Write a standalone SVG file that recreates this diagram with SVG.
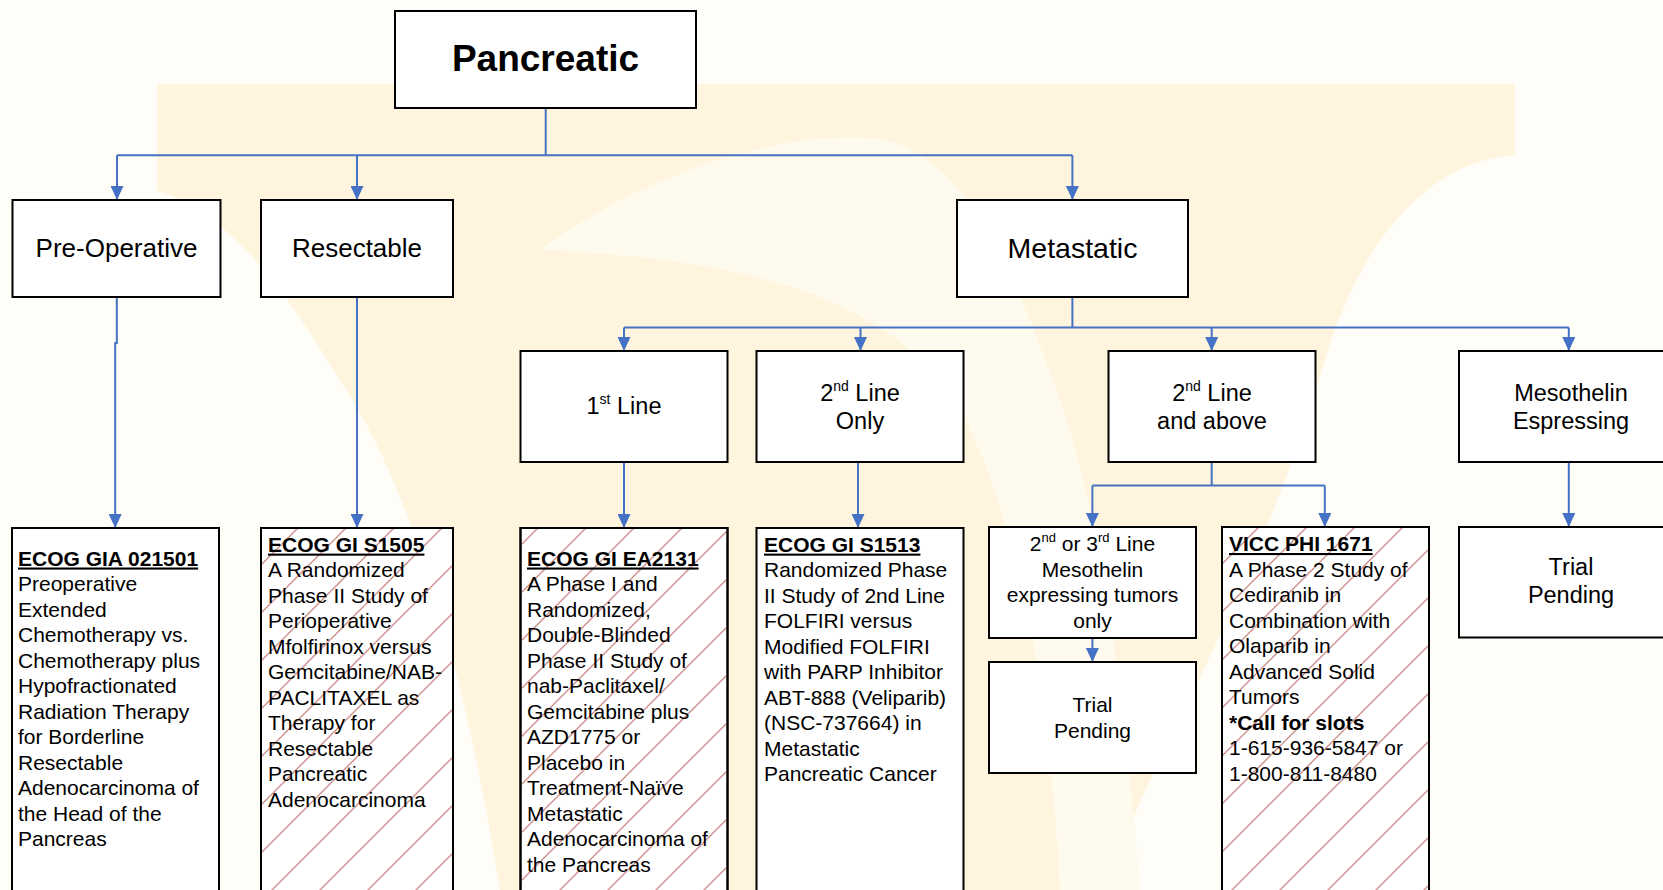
<svg xmlns="http://www.w3.org/2000/svg" width="1663" height="890" viewBox="0 0 1663 890">
<style>
text{font-family:"Liberation Sans",Arial,sans-serif;fill:#000}
.box{fill:#fff;stroke:#000;stroke-width:2}
.hatch{fill:url(#hatch);stroke:none}
.c{text-anchor:middle}
.t21{font-size:21px}
.t235{font-size:23.5px}
.t26{font-size:26px}
.hd{font-weight:bold;text-decoration:underline}
.b{font-weight:bold}
.conn{fill:none;stroke:#4472C4;stroke-width:2}
</style>
<defs>
<pattern id="hatch" patternUnits="userSpaceOnUse" width="48" height="48" x="0" y="10">
<path d="M-4,4 L4,-4 M0,48 L48,0 M44,52 L52,44" stroke="#CC8F8A" stroke-width="1.4"/>
</pattern>
<marker id="arr" viewBox="0 0 14 13" refX="14" refY="6.5" markerWidth="14" markerHeight="13" markerUnits="userSpaceOnUse" orient="auto">
<path d="M0,0 L14,6.5 L0,13 Z" fill="#4472C4"/>
</marker>
</defs>
<g id="background">
<rect x="0" y="0" width="1663" height="890" fill="#FFFDF7"/>
<path d="M157,84 H1515 V155 C1430,160 1360,240 1325,360 C1290,480 1240,600 1150,780 L1100,890 H500 C470,700 420,500 340,380 C290,300 240,220 157,190 Z" fill="#FFF4DE"/>
<path d="M540,250 C620,190 760,130 870,138 C960,145 1010,260 1060,400 C1100,520 1120,650 1140,890 L1060,890 C1050,700 1020,520 960,410 C900,310 780,260 540,250 Z" fill="#FFFAEE"/>
</g>
<g id="connectors">
<path class="conn" d="M545.7,107 V155.3"/>
<path class="conn" d="M117,155.3 H1072.4"/>
<path class="conn" d="M117,155.3 V200" marker-end="url(#arr)"/>
<path class="conn" d="M357,155.3 V200" marker-end="url(#arr)"/>
<path class="conn" d="M1072.4,155.3 V200" marker-end="url(#arr)"/>
<path class="conn" d="M1072.4,297 V327.5"/>
<path class="conn" d="M624,327.5 H1568.8"/>
<path class="conn" d="M624,327.5 V351" marker-end="url(#arr)"/>
<path class="conn" d="M860.5,327.5 V351" marker-end="url(#arr)"/>
<path class="conn" d="M1211.7,327.5 V351" marker-end="url(#arr)"/>
<path class="conn" d="M1568.8,327.5 V351" marker-end="url(#arr)"/>
<path class="conn" d="M116.8,297 V343 H115.2 V528" marker-end="url(#arr)"/>
<path class="conn" d="M357,297 V528" marker-end="url(#arr)"/>
<path class="conn" d="M624,462 V528" marker-end="url(#arr)"/>
<path class="conn" d="M858,462 V528" marker-end="url(#arr)"/>
<path class="conn" d="M1211.7,462 V485.5 M1092.4,485.5 H1324.8"/>
<path class="conn" d="M1092.4,485.5 V527" marker-end="url(#arr)"/>
<path class="conn" d="M1324.8,485.5 V527" marker-end="url(#arr)"/>
<path class="conn" d="M1092.4,638 V662" marker-end="url(#arr)"/>
<path class="conn" d="M1568.8,462 V527" marker-end="url(#arr)"/>
</g>
<g id="pancreatic">
<rect class="box" x="395" y="11" width="301" height="97"/>
<text class="c b" x="545.5" y="71" font-size="37">Pancreatic</text>
</g>
<g id="pre-operative">
<rect class="box" x="12.5" y="200" width="208" height="97"/>
<text class="c t26" x="116.5" y="256.7">Pre-Operative</text>
</g>
<g id="resectable">
<rect class="box" x="261" y="200" width="192" height="97"/>
<text class="c t26" x="357" y="256.7">Resectable</text>
</g>
<g id="metastatic">
<rect class="box" x="957" y="200" width="231" height="97"/>
<text class="c" x="1072.5" y="257.7" font-size="28.5">Metastatic</text>
</g>
<g id="first-line">
<rect class="box" x="520.5" y="351" width="207" height="111"/>
<text class="c t235" x="624" y="413.8">1<tspan font-size="14" dy="-10">st</tspan><tspan dy="10"> Line</tspan></text>
</g>
<g id="second-line-only">
<rect class="box" x="756.5" y="351" width="207" height="111"/>
<text class="c t235" x="860" y="400.7">2<tspan font-size="14" dy="-10">nd</tspan><tspan dy="10"> Line</tspan></text>
<text class="c t235" x="860" y="429">Only</text>
</g>
<g id="second-line-above">
<rect class="box" x="1108.5" y="351" width="207" height="111"/>
<text class="c t235" x="1212" y="400.7">2<tspan font-size="14" dy="-10">nd</tspan><tspan dy="10"> Line</tspan></text>
<text class="c t235" x="1212" y="429">and above</text>
</g>
<g id="mesothelin">
<rect class="box" x="1459" y="351" width="230" height="111"/>
<text class="c t235" x="1571" y="400.7">Mesothelin</text>
<text class="c t235" x="1571" y="429">Espressing</text>
</g>
<g id="ecog-gia-021501">
<rect class="box" x="12" y="528" width="207" height="380"/>
<text class="t21" x="18" y="565.5"><tspan class="hd">ECOG GIA 021501</tspan><tspan x="18" dy="25.5">Preoperative</tspan><tspan x="18" dy="25.5">Extended</tspan><tspan x="18" dy="25.5">Chemotherapy vs.</tspan><tspan x="18" dy="25.5">Chemotherapy plus</tspan><tspan x="18" dy="25.5">Hypofractionated</tspan><tspan x="18" dy="25.5">Radiation Therapy</tspan><tspan x="18" dy="25.5">for Borderline</tspan><tspan x="18" dy="25.5">Resectable</tspan><tspan x="18" dy="25.5">Adenocarcinoma of</tspan><tspan x="18" dy="25.5">the Head of the</tspan><tspan x="18" dy="25.5">Pancreas</tspan></text>
</g>
<g id="ecog-gi-s1505">
<rect class="box" x="261" y="528" width="192" height="380"/>
<rect class="hatch" x="262" y="529" width="190" height="378"/>
<rect x="261" y="528" width="192" height="380" fill="none" stroke="#000" stroke-width="2"/>
<text class="t21" x="268" y="551.6"><tspan class="hd">ECOG GI S1505</tspan><tspan x="268" dy="25.5">A Randomized</tspan><tspan x="268" dy="25.5">Phase II Study of</tspan><tspan x="268" dy="25.5">Perioperative</tspan><tspan x="268" dy="25.5">Mfolfirinox versus</tspan><tspan x="268" dy="25.5">Gemcitabine/NAB-</tspan><tspan x="268" dy="25.5">PACLITAXEL as</tspan><tspan x="268" dy="25.5">Therapy for</tspan><tspan x="268" dy="25.5">Resectable</tspan><tspan x="268" dy="25.5">Pancreatic</tspan><tspan x="268" dy="25.5">Adenocarcinoma</tspan></text>
</g>
<g id="ecog-gi-ea2131">
<rect class="box" x="520.5" y="528" width="207" height="380"/>
<rect class="hatch" x="521.5" y="529" width="205" height="378"/>
<rect x="520.5" y="528" width="207" height="380" fill="none" stroke="#000" stroke-width="2"/>
<text class="t21" x="527" y="565.5"><tspan class="hd">ECOG GI EA2131</tspan><tspan x="527" dy="25.5">A Phase I and</tspan><tspan x="527" dy="25.5">Randomized,</tspan><tspan x="527" dy="25.5">Double-Blinded</tspan><tspan x="527" dy="25.5">Phase II Study of</tspan><tspan x="527" dy="25.5">nab-Paclitaxel/</tspan><tspan x="527" dy="25.5">Gemcitabine plus</tspan><tspan x="527" dy="25.5">AZD1775 or</tspan><tspan x="527" dy="25.5">Placebo in</tspan><tspan x="527" dy="25.5">Treatment-Naïve</tspan><tspan x="527" dy="25.5">Metastatic</tspan><tspan x="527" dy="25.5">Adenocarcinoma of</tspan><tspan x="527" dy="25.5">the Pancreas</tspan></text>
</g>
<g id="ecog-gi-s1513">
<rect class="box" x="756.5" y="528" width="207" height="380"/>
<text class="t21" x="764" y="551.6"><tspan class="hd">ECOG GI S1513</tspan><tspan x="764" dy="25.5">Randomized Phase</tspan><tspan x="764" dy="25.5">II Study of 2nd Line</tspan><tspan x="764" dy="25.5">FOLFIRI versus</tspan><tspan x="764" dy="25.5">Modified FOLFIRI</tspan><tspan x="764" dy="25.5">with PARP Inhibitor</tspan><tspan x="764" dy="25.5">ABT-888 (Veliparib)</tspan><tspan x="764" dy="25.5">(NSC-737664) in</tspan><tspan x="764" dy="25.5">Metastatic</tspan><tspan x="764" dy="25.5">Pancreatic Cancer</tspan></text>
</g>
<g id="second-third-line-mesothelin">
<rect class="box" x="989" y="527" width="207" height="111"/>
<text class="c t21" x="1092.5" y="551">2<tspan font-size="13" dy="-9">nd</tspan><tspan dy="9"> or 3</tspan><tspan font-size="13" dy="-9">rd</tspan><tspan dy="9"> Line</tspan></text>
<text class="c t21" x="1092.5" y="576.5">Mesothelin</text>
<text class="c t21" x="1092.5" y="602">expressing tumors</text>
<text class="c t21" x="1092.5" y="627.5">only</text>
</g>
<g id="trial-pending-1">
<rect class="box" x="989" y="662" width="207" height="111"/>
<text class="c t21" x="1092.5" y="711.6">Trial</text>
<text class="c t21" x="1092.5" y="738">Pending</text>
</g>
<g id="vicc-phi-1671">
<rect class="box" x="1222" y="527" width="207" height="381"/>
<rect class="hatch" x="1223" y="528" width="205" height="379"/>
<rect x="1222" y="527" width="207" height="381" fill="none" stroke="#000" stroke-width="2"/>
<text class="t21" x="1229" y="551"><tspan class="hd">VICC PHI 1671</tspan><tspan x="1229" dy="25.5">A Phase 2 Study of</tspan><tspan x="1229" dy="25.5">Cediranib in</tspan><tspan x="1229" dy="25.5">Combination with</tspan><tspan x="1229" dy="25.5">Olaparib in</tspan><tspan x="1229" dy="25.5">Advanced Solid</tspan><tspan x="1229" dy="25.5">Tumors</tspan><tspan x="1229" dy="25.5" class="b">*Call for slots</tspan><tspan x="1229" dy="25.5">1-615-936-5847 or</tspan><tspan x="1229" dy="25.5">1-800-811-8480</tspan></text>
</g>
<g id="trial-pending-2">
<rect class="box" x="1459" y="527" width="230" height="110.5"/>
<text class="c t235" x="1571" y="574.5">Trial</text>
<text class="c t235" x="1571" y="603">Pending</text>
</g>
</svg>
